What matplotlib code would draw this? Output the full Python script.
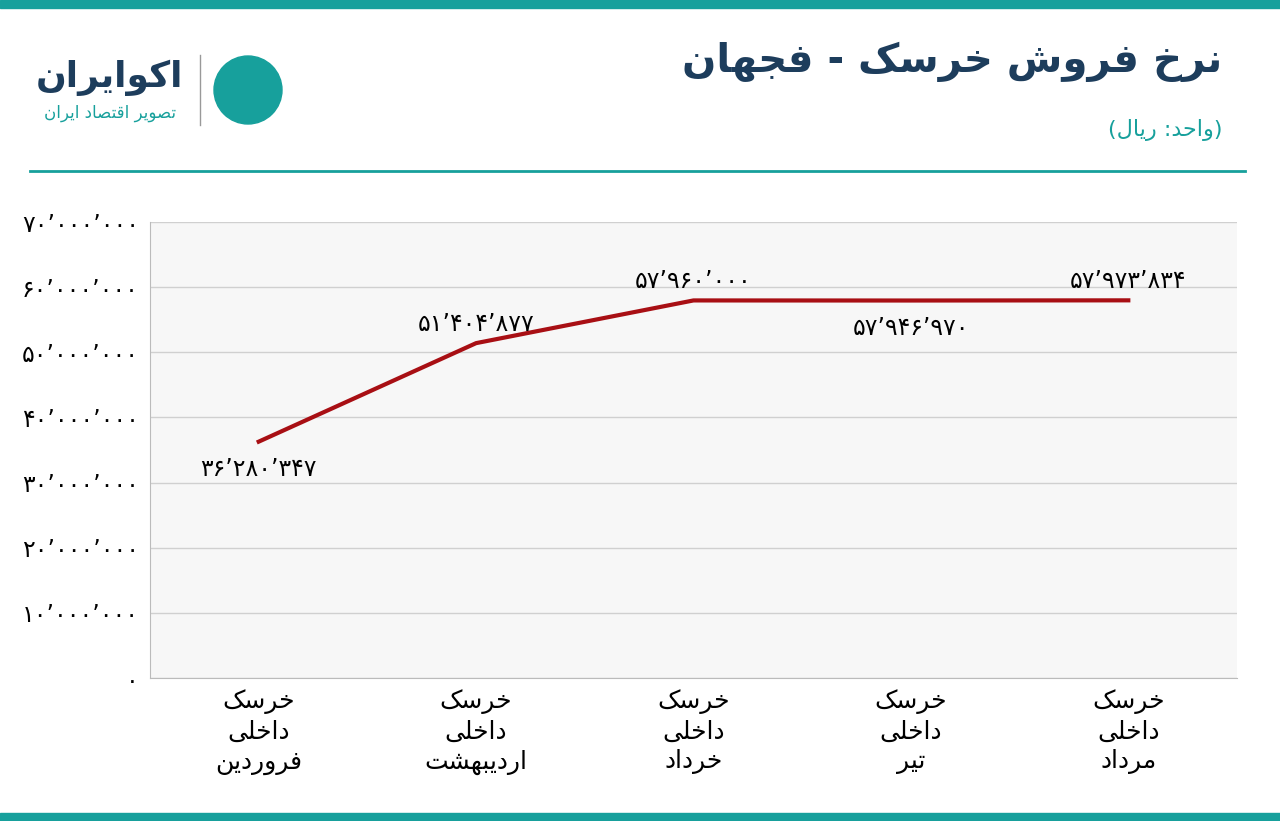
import matplotlib
matplotlib.use('Agg')
import matplotlib.pyplot as plt
from matplotlib.patches import Ellipse

# --- minimal Persian shaping (presentation forms) + visual reorder ---
FORMS = {
    'ا': (0xFE8D, 0xFE8E), 'د': (0xFEA9, 0xFEAA), 'ر': (0xFEAD, 0xFEAE), 'و': (0xFEED, 0xFEEE),
    'ب': (0xFE8F, 0xFE90, 0xFE91, 0xFE92), 'ت': (0xFE95, 0xFE96, 0xFE97, 0xFE98),
    'ج': (0xFE9D, 0xFE9E, 0xFE9F, 0xFEA0), 'ح': (0xFEA1, 0xFEA2, 0xFEA3, 0xFEA4),
    'خ': (0xFEA5, 0xFEA6, 0xFEA7, 0xFEA8), 'س': (0xFEB1, 0xFEB2, 0xFEB3, 0xFEB4),
    'ش': (0xFEB5, 0xFEB6, 0xFEB7, 0xFEB8), 'ص': (0xFEB9, 0xFEBA, 0xFEBB, 0xFEBC),
    'ف': (0xFED1, 0xFED2, 0xFED3, 0xFED4), 'ق': (0xFED5, 0xFED6, 0xFED7, 0xFED8),
    'ل': (0xFEDD, 0xFEDE, 0xFEDF, 0xFEE0), 'م': (0xFEE1, 0xFEE2, 0xFEE3, 0xFEE4),
    'ن': (0xFEE5, 0xFEE6, 0xFEE7, 0xFEE8), 'ه': (0xFEE9, 0xFEEA, 0xFEEB, 0xFEEC),
    'ک': (0xFB8E, 0xFB8F, 0xFB90, 0xFB91), 'ی': (0xFBFC, 0xFBFD, 0xFBFE, 0xFBFF),
    'پ': (0xFB56, 0xFB57, 0xFB58, 0xFB59),
}
MIRROR = {'(': ')', ')': '('}


def fa(text):
    lines = []
    for line in text.split('\n'):
        out = []
        for i, ch in enumerate(line):
            if ch not in FORMS:
                out.append(MIRROR.get(ch, ch))
                continue
            prev = line[i - 1] if i > 0 else ''
            nxt = line[i + 1] if i + 1 < len(line) else ''
            join_prev = prev in FORMS and len(FORMS[prev]) == 4
            join_next = nxt in FORMS and len(FORMS[ch]) == 4
            f = FORMS[ch]
            if join_prev and join_next:
                c = f[3]
            elif join_prev:
                c = f[1]
            elif join_next:
                c = f[2]
            else:
                c = f[0]
            out.append(chr(c))
        lines.append(''.join(out)[::-1])
    return '\n'.join(lines)


def fa_num(v):
    s = f'{v:,}'
    return s.translate(str.maketrans('0123456789,', '۰۱۲۳۴۵۶۷۸۹٬'))


# --- data ---
months = ['فروردین', 'اردیبهشت', 'خرداد', 'تیر', 'مرداد']
categories = ['خرسک\nداخلی\n' + m for m in months]
prices = [36280347, 51404877, 57960000, 57946970, 57973834]
label_below = [True, False, False, True, False]
yticks = [0, 10000000, 20000000, 30000000, 40000000, 50000000, 60000000, 70000000]

teal = '#17a09c'
navy = '#1d3d5c'
red = '#a80f14'

fig = plt.figure(figsize=(12.8, 8.21), dpi=100)
fig.patch.set_facecolor('white')

# frame decorations
fig.add_artist(plt.Rectangle((0, 1 - 8 / 821), 1, 8 / 821, color=teal, transform=fig.transFigure))
fig.add_artist(plt.Rectangle((0, 0), 1, 8 / 821, color=teal, transform=fig.transFigure))
fig.add_artist(plt.Line2D([30 / 1280, 1245 / 1280], [1 - 171 / 821] * 2, color=teal, lw=2,
                          transform=fig.transFigure))

fig.text(1222 / 1280, 1 - 62 / 821, fa('نرخ فروش خرسک - فجهان'), ha='right', va='center',
         fontsize=29, fontweight='bold', color=navy)
fig.text(1222 / 1280, 1 - 130 / 821, fa('(واحد: ریال)'), ha='right', va='center',
         fontsize=16, color=teal)
fig.text(110 / 1280, 1 - 78 / 821, fa('اکوایران'), ha='center', va='center',
         fontsize=26, fontweight='bold', color=navy)
fig.text(110 / 1280, 1 - 113 / 821, fa('تصویر اقتصاد ایران'), ha='center', va='center',
         fontsize=12, color=teal)
fig.add_artist(plt.Line2D([200 / 1280] * 2, [1 - 55 / 821, 1 - 125 / 821], color='#999999', lw=1,
                          transform=fig.transFigure))
fig.add_artist(Ellipse((248 / 1280, 1 - 90 / 821), 68 / 1280, 68 / 821, color=teal,
                       transform=fig.transFigure))

ax = fig.add_axes([150 / 1280, 1 - 678 / 821, 1087 / 1280, 456 / 821])
ax.set_facecolor('#f7f7f7')
x = list(range(len(prices)))
ax.plot(x, prices, color=red, lw=3)
ax.set_xlim(-0.5, len(prices) - 0.5)
ax.set_ylim(0, 70000000)
ax.set_yticks(yticks)
ax.set_yticklabels([fa_num(v) for v in yticks], fontsize=17)
ax.set_xticks(x)
ax.set_xticklabels([fa(c) for c in categories], fontsize=18, linespacing=1.3)
ax.grid(axis='y', color='#d0d0d0', lw=1)
ax.set_axisbelow(True)
ax.tick_params(length=0, pad=8)
for s in ['top', 'right']:
    ax.spines[s].set_visible(False)
ax.spines['left'].set_color('#bbbbbb')
ax.spines['bottom'].set_color('#bbbbbb')

for xi, v, below in zip(x, prices, label_below):
    ax.annotate(fa_num(v), (xi, v), xytext=(0, -20 if below else 14), textcoords='offset points',
                ha='center', va='center', fontsize=17)

fig.savefig('out.png', dpi=100)
